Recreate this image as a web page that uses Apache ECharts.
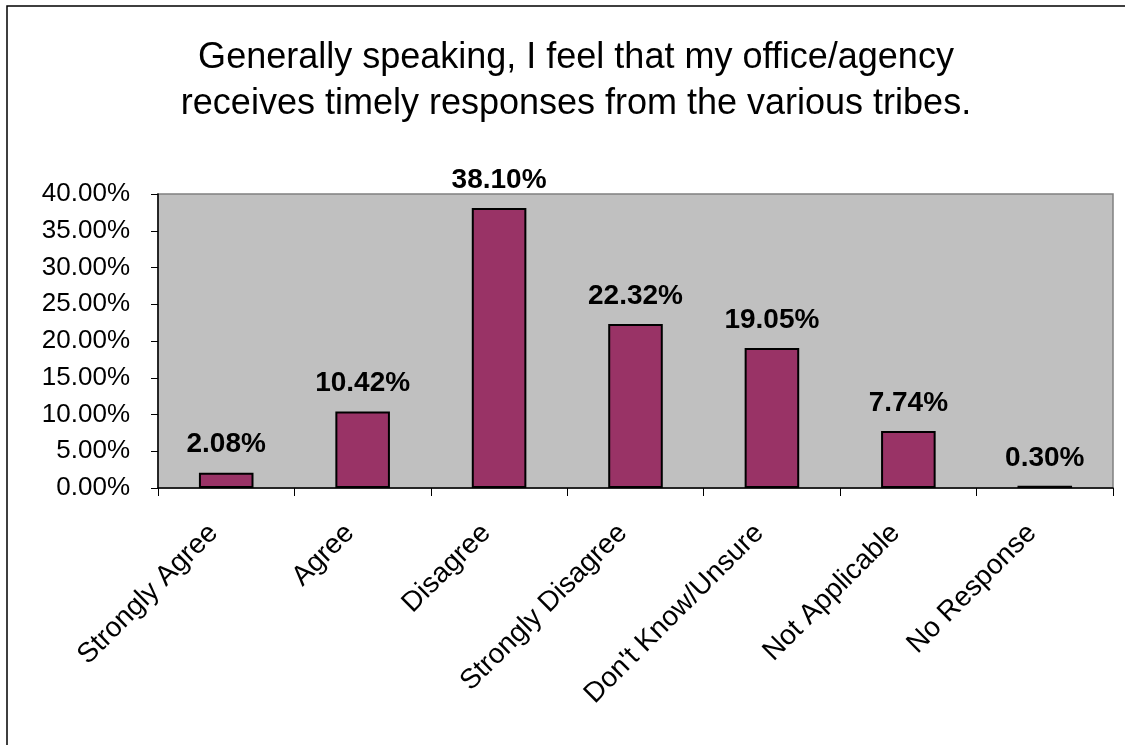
<!DOCTYPE html>
<html>
<head>
<meta charset="utf-8">
<script src="https://cdn.jsdelivr.net/npm/echarts@6/dist/echarts.min.js"></script>
<style>
html,body{margin:0;padding:0;background:#fff;}
#c{width:1125px;height:745px;}
</style>
</head>
<body>
<div id="c"></div>
<script>
const titleLines = ["Generally speaking, I feel that my office/agency", "receives timely responses from the various tribes."];
const categories = ["Strongly Agree", "Agree", "Disagree", "Strongly Disagree", "Don't Know/Unsure", "Not Applicable", "No Response"];
const percentValues = [2.08, 10.42, 38.10, 22.32, 19.05, 7.74, 0.30];
const yAxisMin = 0;
const yAxisMax = 40;
const yAxisStep = 5;

const chart = echarts.init(document.getElementById('c'), null, {renderer: 'canvas'});
const FONT = '"Liberation Sans", Arial, sans-serif';
chart.setOption({
  backgroundColor: '#ffffff',
  animation: false,
  graphic: [{
    type: 'text',
    x: 576, y: 35,
    style: {
      text: titleLines.join('\n'),
      align: 'center', verticalAlign: 'top',
      font: 'normal 36px "Liberation Sans", Arial, sans-serif',
      lineHeight: 46,
      fill: '#000'
    },
    silent: true
  }, {
    type: 'rect',
    shape: {x: 7, y: 6, width: 1200, height: 800},
    style: {fill: 'none', stroke: '#000', lineWidth: 1.5},
    silent: true,
    z: 100
  }],
  grid: {
    left: 158, top: 194, right: 12, bottom: 257,
    show: true, backgroundColor: '#C0C0C0', borderColor: '#808080', borderWidth: 1.5,
    containLabel: false
  },
  xAxis: {
    type: 'category',
    data: categories,
    axisLine: {lineStyle: {color: '#000', width: 1.5}},
    axisTick: {show: true, length: 8, lineStyle: {color: '#000', width: 1}},
    axisLabel: {
      rotate: 45, margin: 28, interval: 0, padding: [0, 18, 0, 0],
      fontFamily: FONT, fontSize: 28, color: '#000'
    },
    splitLine: {show: false}
  },
  yAxis: {
    type: 'value',
    min: yAxisMin, max: yAxisMax, interval: yAxisStep,
    axisLine: {show: true, lineStyle: {color: '#000', width: 1.5}},
    axisTick: {show: true, length: 7, lineStyle: {color: '#000', width: 1}},
    axisLabel: {
      margin: 28, fontFamily: FONT, fontSize: 26, color: '#000',
      formatter: v => v.toFixed(2) + '%'
    },
    splitLine: {show: false}
  },
  series: [{
    type: 'bar',
    data: percentValues,
    barWidth: '40%',
    itemStyle: {color: '#993366', borderColor: '#000', borderWidth: 2},
    label: {
      show: true, position: 'top', distance: 14,
      fontFamily: FONT, fontSize: 28, fontWeight: 'bold', color: '#000',
      formatter: p => p.value.toFixed(2) + '%'
    }
  }]
});
</script>
</body>
</html>
